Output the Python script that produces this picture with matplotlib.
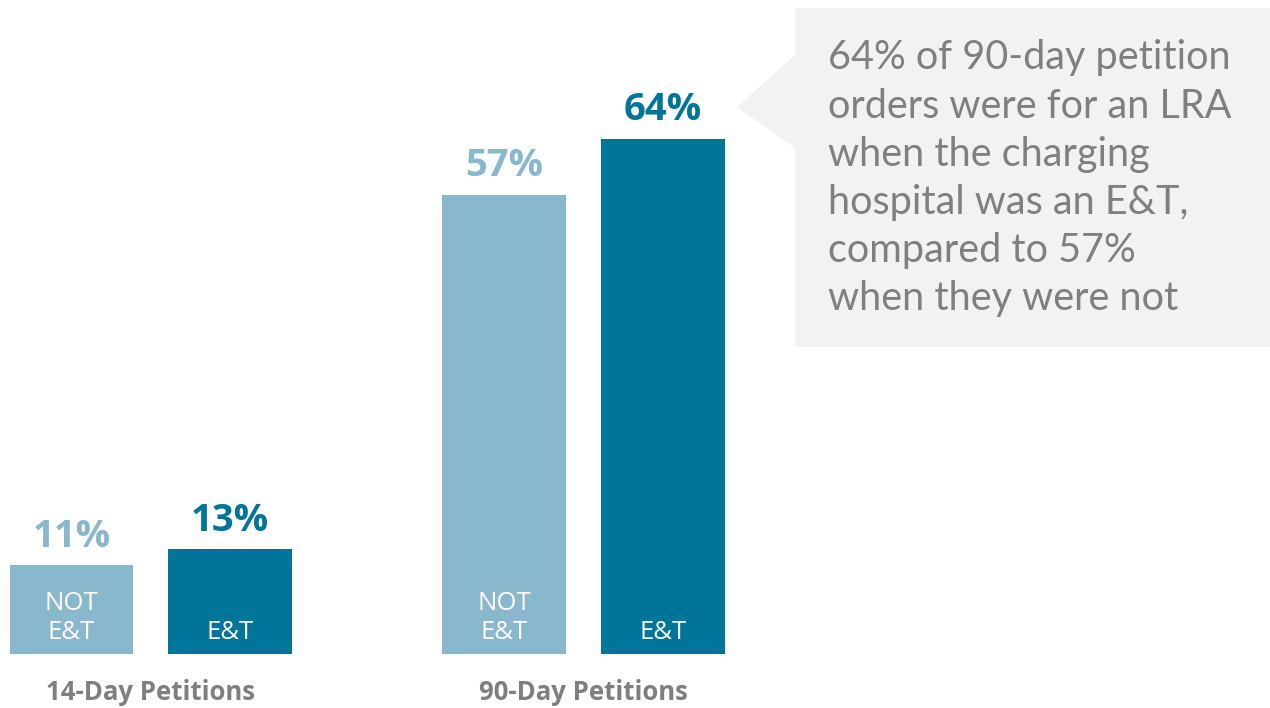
import matplotlib.pyplot as plt
from matplotlib.patches import Polygon

groups = ['14-Day Petitions', '90-Day Petitions']
bar_names = ['NOT\nE&T', 'E&T']
not_et = [11, 57]
et = [13, 64]
callout = ('64% of 90-day petition\norders were for an LRA\nwhen the charging\n'
           'hospital was an E&T,\ncompared to 57%\nwhen they were not')

light = '#89B8CE'
dark = '#00759A'
grey = '#7F7F7F'

fig = plt.figure(figsize=(12.7, 7.08), dpi=100)
ax = fig.add_axes([0, 54 / 708, 1, 644 / 708])
ax.set_xlim(-0.451, 7.561)
ax.set_ylim(0, 80)
ax.axis('off')

group_x = [0, 2.73]
width = 0.78
for gx, label, vals in zip(group_x, groups, zip(not_et, et)):
    for i, (v, c, name) in enumerate(zip(vals, [light, dark], bar_names)):
        x = gx + i
        ax.bar(x, v, width=width, color=c)
        ax.annotate(f'{v}%', (x, v), xytext=(0, 13.5), textcoords='offset points',
                    ha='center', va='baseline', fontsize=27.5, fontweight='bold',
                    color=c, family='Open Sans')
        ax.annotate(name, (x, 0), xytext=(0, 10.5), textcoords='offset points',
                    ha='center', va='baseline', fontsize=18.5, color='white',
                    family='Open Sans', linespacing=1.22)
    ax.annotate(label, (gx + 0.5, 0), xytext=(0, -33), textcoords='offset points',
                ha='center', va='baseline', fontsize=18.5, fontweight='bold',
                color=grey, family='Open Sans')

# callout box with pointer towards the 64% bar
W, H = 1270, 708
box = [(795, 8), (1270, 8), (1270, 347), (795, 347), (795, 148), (737, 107), (795, 55)]
fig.patches.append(Polygon([(x / W, 1 - y / H) for x, y in box], closed=True,
                           transform=fig.transFigure, facecolor='#F2F2F2',
                           edgecolor='none'))
fig.text(828 / W, 1 - 310 / H, callout, ha='left', va='baseline', fontsize=28.5,
         color=grey, family='Lato', linespacing=1.37)

fig.savefig('out.png', dpi=100)
